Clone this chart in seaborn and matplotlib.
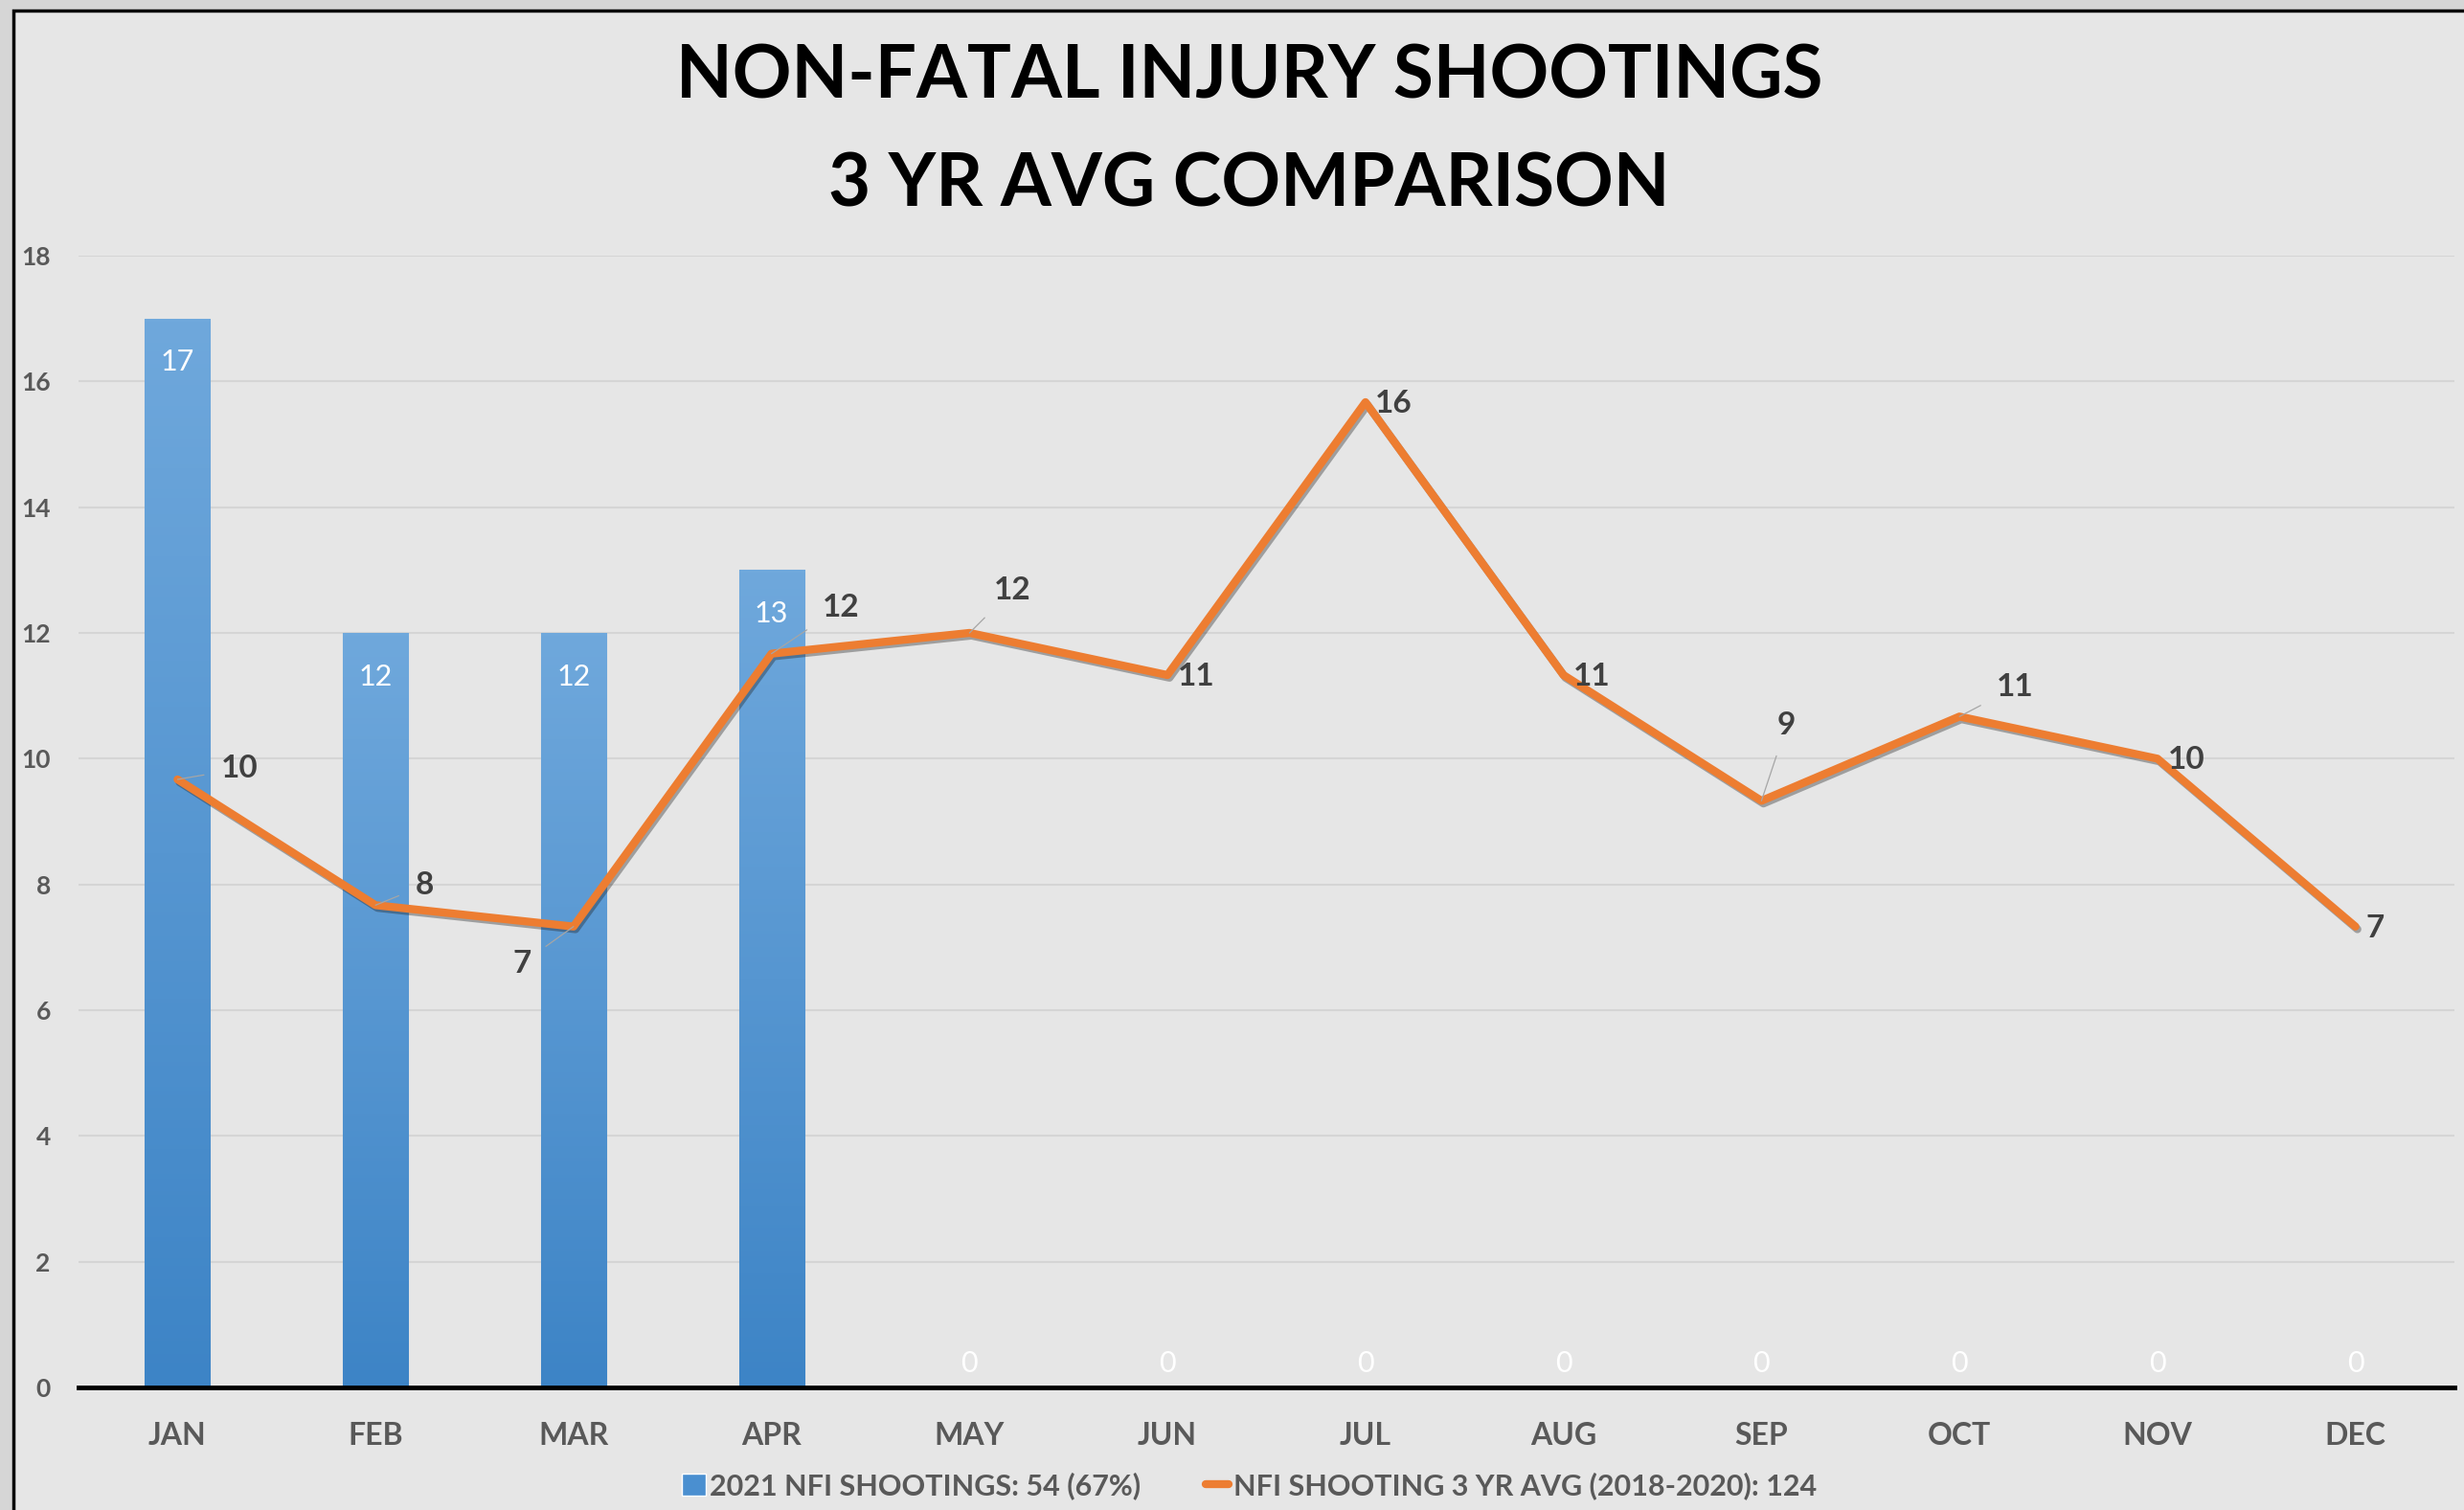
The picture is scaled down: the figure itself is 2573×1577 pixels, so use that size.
import numpy as np
import pandas as pd
import seaborn as sns
import matplotlib.pyplot as plt
from matplotlib.patches import Rectangle
from matplotlib import patheffects as pe

# chart data
months = ["JAN", "FEB", "MAR", "APR", "MAY", "JUN", "JUL", "AUG", "SEP", "OCT", "NOV", "DEC"]
shootings_2021 = [17, 12, 12, 13, 0, 0, 0, 0, 0, 0, 0, 0]
avg_3yr = [9.67, 7.67, 7.33, 11.67, 12.0, 11.33, 15.67, 11.33, 9.33, 10.67, 10.0, 7.33]
avg_labels = ["10", "8", "7", "12", "12", "11", "16", "11", "9", "11", "10", "7"]
# label offsets (points) and whether a leader line is drawn
label_offsets = [(47, 8), (37, 15), (-39, -28), (52, 35), (32, 32), (22, -1),
                 (21, -1), (21, -1), (19, 57), (42, 22), (22, -1), (15, -1)]
leaders = [True, True, True, True, True, False, False, False, True, True, False, False]
legend_bar = "2021 NFI SHOOTINGS: 54 (67%)"
legend_line = "NFI SHOOTING 3 YR AVG (2018-2020): 124"
title = "NON-FATAL INJURY SHOOTINGS\n3 YR AVG COMPARISON"

df = pd.DataFrame({"month": months, "nfi": shootings_2021, "avg": avg_3yr})
df["pos"] = np.arange(len(months))

sns.set_theme(style="white")
plt.rcParams["font.family"] = ["Lato", "DejaVu Sans"]

fig = plt.figure(figsize=(25.73, 15.77), dpi=100, facecolor="#d6d6d6")
# framed chart area
fig.patches.append(Rectangle((14 / 2573, -0.1), 1.1, 1 - 11 / 1577 + 0.1,
                             transform=fig.transFigure, facecolor="#e6e6e6",
                             edgecolor="black", linewidth=2.5, zorder=0))

ax = fig.add_axes([82 / 2573, 1 - 1449 / 1577, (2563 - 82) / 2573, (1449 - 267) / 1577])
ax.set_facecolor("none")
ax.set_zorder(2)

sns.barplot(data=df, x="month", y="nfi", color="#4a8fd0", width=0.33, ax=ax, zorder=2)

# vertical gradient on each bar
grad = np.linspace(0, 1, 256).reshape(-1, 1)
cmap = sns.blend_palette(["#3d84c6", "#6fa8dc"], as_cmap=True)
for bar in list(ax.patches):
    x0, y0 = bar.get_x(), bar.get_y()
    w, h = bar.get_width(), bar.get_height()
    if h <= 0:
        continue
    im = ax.imshow(grad, extent=[x0, x0 + w, y0, y0 + h], origin="lower",
                   cmap=cmap, aspect="auto", zorder=2)
    im.set_clip_path(bar)
    bar.set_facecolor("none")
    bar.set_edgecolor("#9ab8d8")
    bar.set_linewidth(0.8)

# bar value labels
for i, v in enumerate(shootings_2021):
    dy = -33 if v > 0 else 18
    ax.annotate(str(v), (i, v), xytext=(0, dy), textcoords="offset points",
                ha="center", va="center", color="white", fontsize=22, zorder=5)

sns.lineplot(data=df, x="pos", y="avg", color="#ed7d31", linewidth=6, ax=ax,
             zorder=4, sort=False,
             path_effects=[pe.SimpleLineShadow(offset=(1.5, -2), alpha=0.35), pe.Normal()])

for i, (v, lab) in enumerate(zip(avg_3yr, avg_labels)):
    dx, dy = label_offsets[i]
    arrow = dict(arrowstyle="-", color="#a6a6a6", lw=0.9, shrinkA=11, shrinkB=0) if leaders[i] else None
    ax.annotate(lab, (i, v), xytext=(dx, dy), textcoords="offset points",
                ha="center", va="center", color="#404040", fontsize=24,
                fontweight="bold", arrowprops=arrow, zorder=6)

ax.set_xlim(-0.5, 11.5)
ax.set_ylim(0, 18)
ax.set_yticks(range(0, 19, 2))
ax.set_xlabel("")
ax.set_ylabel("")
ax.yaxis.grid(True, color="#d5d5d5", linewidth=1.5)
ax.set_axisbelow(True)
for s in ["top", "right", "left"]:
    ax.spines[s].set_visible(False)
ax.spines["bottom"].set_color("black")
ax.spines["bottom"].set_linewidth(3.5)
ax.spines["bottom"].set_zorder(7)

ax.tick_params(axis="y", length=0, pad=21, labelsize=19, labelcolor="#595959")
ax.tick_params(axis="x", which="major", length=0, pad=26, labelsize=23, labelcolor="#595959")
ax.set_xticks(np.arange(-0.5, 12, 1), minor=True)
ax.tick_params(axis="x", which="minor", direction="in", length=10, width=2.2, color="black")
for t in ax.get_xticklabels() + ax.get_yticklabels():
    t.set_fontweight("bold")

fig.text(0.507, 0.913, title, ha="center", va="center", fontsize=55,
         fontweight="bold", color="black", linespacing=1.76)

handles = [Rectangle((0, 0), 1, 1, facecolor="#4a8fd0"),
           plt.Line2D([0], [0], color="#ed7d31", linewidth=6, solid_capstyle="round")]
leg = fig.legend(handles, [legend_bar, legend_line], loc="center", bbox_to_anchor=(0.507, 0.016),
                 ncol=2, frameon=False, fontsize=22, handlelength=0.8, handleheight=0.8,
                 handletextpad=0.15, columnspacing=2.2)
for t in leg.get_texts():
    t.set_color("#595959")
    t.set_fontweight("bold")

fig.savefig("out.png", dpi=100, facecolor=fig.get_facecolor())
